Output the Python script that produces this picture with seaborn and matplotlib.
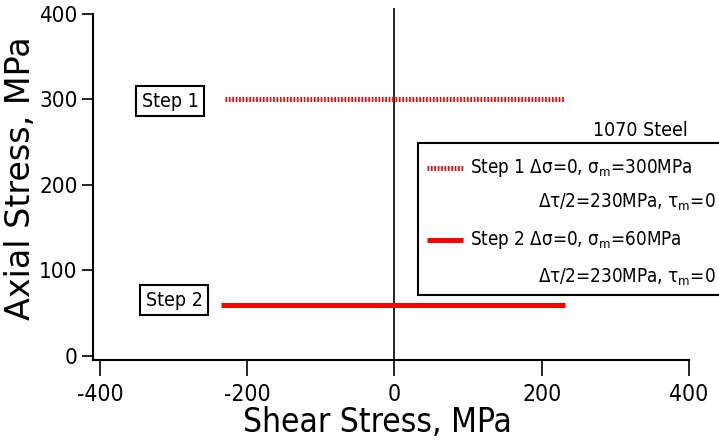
import matplotlib
matplotlib.use("Agg")
import matplotlib.pyplot as plt
import seaborn as sns
import pandas as pd
from matplotlib.patches import Rectangle
from matplotlib.lines import Line2D

# ---- data ----
steps = ["Step 1", "Step 2"]
step1_shear = [-230, 230]
step1_axial = [300, 300]
step2_shear = [-235, 232]
step2_axial = [60, 60]
xticks = [-400, -200, 0, 200, 400]
yticks = [0, 100, 200, 300, 400]
legend_title = "1070 Steel"
legend_line1 = ["Step 1 Δσ=0, σ$_\\mathregular{m}$=300MPa",
                "Step 2 Δσ=0, σ$_\\mathregular{m}$=60MPa"]
legend_line2 = ["Δτ/2=230MPa, τ$_\\mathregular{m}$=0",
                "Δτ/2=230MPa, τ$_\\mathregular{m}$=0"]
step_label_pos_x = [-305, -299]
step_label_pos_y = [298, 65]

sns.set_style("white")
plt.rcParams["font.family"] = ["DejaVu Sans"]
plt.rcParams["font.stretch"] = "condensed"
plt.rcParams["text.color"] = "black"
plt.rcParams["mathtext.fontset"] = "custom"
plt.rcParams["mathtext.rm"] = "DejaVu Sans:stretch=condensed"

W, H = 719, 441
fig = plt.figure(figsize=(W / 100, H / 100), dpi=100)
ax = fig.add_axes([93 / W, 1 - 360 / H, (689 - 93) / W, (360 - 8) / H])

df1 = pd.DataFrame({"shear": step1_shear, "axial": step1_axial})
df2 = pd.DataFrame({"shear": step2_shear, "axial": step2_axial})
sns.lineplot(data=df1, x="shear", y="axial", ax=ax, color="#ff0000", lw=3.6,
             solid_capstyle="butt")
ax.lines[-1].set_linestyle((0, (0.34, 0.34)))
ax.lines[-1].set_dash_capstyle("butt")
sns.lineplot(data=df2, x="shear", y="axial", ax=ax, color="#ff0000", lw=3.6,
             solid_capstyle="butt")

ax.axvline(0, color="black", lw=1.2, zorder=1)

ax.set_xlim(-409.5, 400)
ax.set_ylim(-4.7, 407)
ax.set_xticks(xticks)
ax.set_yticks(yticks)
ax.set_xticklabels([str(v) for v in xticks])
ax.set_yticklabels([str(v) for v in yticks])
for s in ["top", "right"]:
    ax.spines[s].set_visible(False)
for s in ["left", "bottom"]:
    ax.spines[s].set_linewidth(1.5)
    ax.spines[s].set_color("black")
ax.spines["left"].set_bounds(-4.7, 400)
ax.tick_params(axis="x", direction="out", length=11.5, width=1.2, pad=5,
               labelsize=16.5, colors="black", bottom=True)
ax.tick_params(axis="y", direction="out", length=8, width=1.2, pad=3,
               labelsize=16, colors="black", left=True)

ax.set_xlabel("")
ax.set_ylabel("")
fig.text(377 / W, 1 - 422 / H, "Shear Stress, MPa", fontsize=24,
         ha="center", va="center")
fig.text(21 / W, 1 - 178 / H, "Axial Stress, MPa", fontsize=24,
         fontstretch="normal", ha="center", va="center", rotation=90)

for lab, x, y in zip(steps, step_label_pos_x, step_label_pos_y):
    ax.text(x, y, lab, fontsize=14, ha="center", va="center",
            bbox=dict(boxstyle="square,pad=0.28", fc="white", ec="black", lw=1.5))

def fx(px):
    return px / W

def fy(py):
    return 1 - py / H

fig.patches.append(Rectangle((fx(418), fy(295)), fx(730) - fx(418), fy(143) - fy(295),
                             transform=fig.transFigure, fc="white", ec="black",
                             lw=1.5, zorder=5))
fig.text(fx(640), fy(130), legend_title, fontsize=14, ha="center", va="center", zorder=6)
entry_y1 = [168, 240]
entry_y2 = [202, 277]
styles = [(0, (0.34, 0.34)), "-"]
for i in range(2):
    ln = Line2D([fx(427), fx(463)], [fy(entry_y1[i]), fy(entry_y1[i])],
                transform=fig.transFigure, color="#ff0000", lw=3.6,
                linestyle=styles[i], solid_capstyle="butt", dash_capstyle="butt",
                zorder=6)
    fig.lines.append(ln)
    fig.text(fx(470), fy(entry_y1[i]), legend_line1[i], fontsize=13.5,
             ha="left", va="center", zorder=6)
    fig.text(fx(716), fy(entry_y2[i]), legend_line2[i], fontsize=13.5,
             ha="right", va="center", zorder=6)

fig.savefig("out.png", dpi=100)
